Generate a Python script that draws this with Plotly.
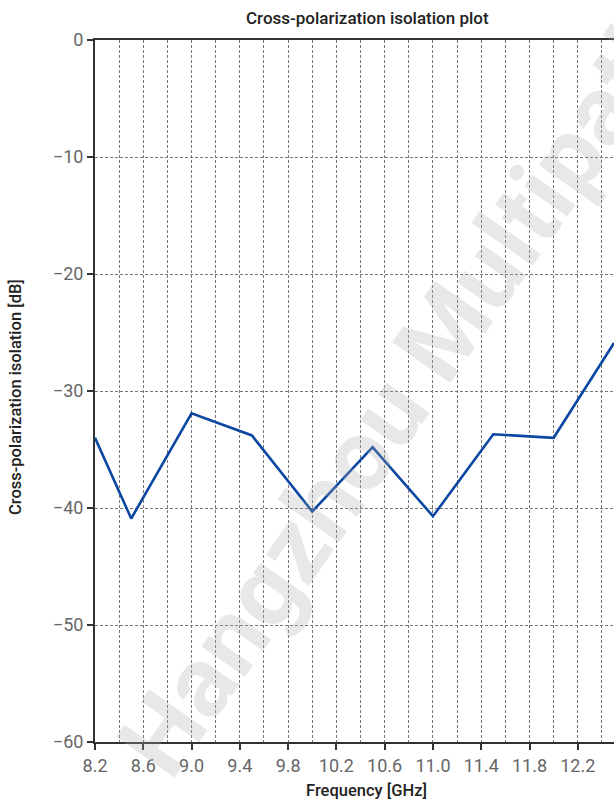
import plotly.graph_objects as go

freq_ghz = [8.2, 8.5, 9.0, 9.5, 10.0, 10.5, 11.0, 11.5, 12.0, 12.5]
isolation_db = [-34.0, -40.9, -31.9, -33.8, -40.3, -34.8, -40.7, -33.7, -34.0, -25.9]

FONT = "Roboto, Liberation Sans, Arial, sans-serif"
W, H = 614, 805
L, R, T, B = 95, 0, 40, 63
DASH = "3px,2px"

fig = go.Figure()
fig.add_trace(go.Scatter(x=freq_ghz, y=isolation_db, mode="lines",
                         line=dict(color="#0b47a1", width=2.6),
                         hoverinfo="x+y", showlegend=False))

pw, ph = W - L - R, H - T - B
def px(x):
    return (x - L) / pw
def py(y):
    return (H - B - y) / ph

# watermark
fig.add_annotation(text="Hangzhou Multipath", x=px(403), y=py(390), xref="paper", yref="paper",
                   showarrow=False, textangle=-55,
                   font=dict(family=FONT, size=100, weight=700, color="rgba(170,170,170,0.27)"))

# titles as annotations
fig.add_annotation(text="Cross-polarization isolation plot", x=px(367), y=py(18), xref="paper", yref="paper",
                   showarrow=False, xanchor="center", yanchor="middle",
                   font=dict(family=FONT, size=17, weight=500, color="#222"))
fig.add_annotation(text="Frequency [GHz]", x=px(366), y=py(790), xref="paper", yref="paper",
                   showarrow=False, xanchor="center", yanchor="middle",
                   font=dict(family=FONT, size=16.5, weight=500, color="#222"))
fig.add_annotation(text="Cross-polarization isolation [dB]", x=px(15), y=py(397), xref="paper", yref="paper",
                   showarrow=False, xanchor="center", yanchor="middle", textangle=-90,
                   font=dict(family=FONT, size=16.5, weight=500, color="#222"))

fig.update_layout(
    width=W, height=H,
    margin=dict(l=L, r=R, t=T, b=B, autoexpand=False),
    paper_bgcolor="white", plot_bgcolor="white",
    font=dict(family=FONT),
)

fig.update_xaxes(
    range=[8.2, 12.5], tick0=8.2, dtick=0.4, tickformat=".1f", automargin=False,
    showline=True, linecolor="#333", linewidth=2, mirror=True,
    ticks="outside", ticklen=6, tickcolor="#333", tickwidth=1.5,
    showgrid=True, gridcolor="#777", griddash=DASH, gridwidth=1,
    minor=dict(dtick=0.2, tick0=8.2, showgrid=True, gridcolor="#777", griddash=DASH, gridwidth=1),
    tickfont=dict(family=FONT, size=18, color="#666"),
    zeroline=False,
)
fig.update_yaxes(
    range=[-60, 0], dtick=10, automargin=False,
    showline=True, linecolor="#333", linewidth=2, mirror=False,
    ticks="outside", ticklen=6, tickcolor="#333", tickwidth=1.5,
    showgrid=True, gridcolor="#777", griddash=DASH, gridwidth=1,
    tickfont=dict(family=FONT, size=18, color="#666"),
    zeroline=False,
)

fig.write_html("out.html", config={"displayModeBar": False},
               post_script="document.body.style.margin='0';document.body.style.padding='0';")
